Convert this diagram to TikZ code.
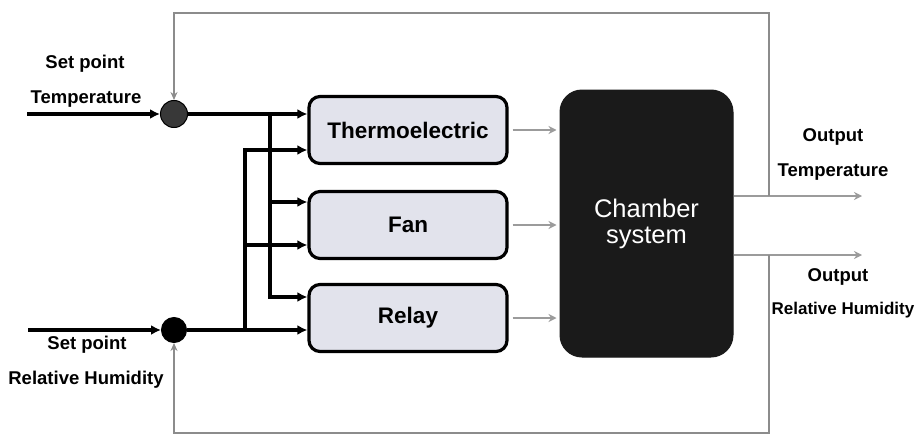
\documentclass[tikz,border=0pt]{standalone}
\usepackage{fontspec}
\setmainfont{Liberation Sans}
\usetikzlibrary{arrows.meta}
\definecolor{blkfill}{RGB}{226,227,236}
\definecolor{chfill}{RGB}{26,26,26}
\definecolor{fbgray}{RGB}{140,140,140}
\definecolor{agray}{RGB}{155,155,155}
\tikzset{
  blk/.style={draw=black, line width=3.2pt, rounded corners=11pt, fill=blkfill,
    minimum width=198pt, minimum height=67pt, inner sep=0pt,
    font=\bfseries\fontsize{22.5}{25}\selectfont},
  chbox/.style={draw=chfill, line width=1pt, rounded corners=22pt, fill=chfill,
    minimum width=173pt, minimum height=267pt, inner sep=0pt, text=white,
    align=center, font=\fontsize{25.5}{30}\selectfont},
  lbl/.style={font=\bfseries\fontsize{18.5}{21}\selectfont, inner sep=0pt},
  barrow/.style={line width=3.2pt, -{Latex[length=10pt,width=10pt]}},
  bline/.style={line width=3.2pt},
  garrow/.style={draw=agray, line width=1.8pt, -{Stealth[length=8pt,width=8pt]}},
  fb/.style={draw=fbgray, line width=1.4pt},
  fbarrow/.style={draw=fbgray, line width=1.4pt, -{Stealth[length=8pt,width=7pt]}},
  sumdot/.style={circle, inner sep=0pt, draw=black, line width=1pt},
}
\begin{document}
\begin{tikzpicture}[x=1pt,y=-1pt]
\useasboundingbox[fill=white] (0,0) rectangle (921,436);

% summing circles
\node[sumdot, fill=black!78, minimum size=27pt] (ct) at (174,114) {};
\node[sumdot, fill=black, minimum size=25pt] (chum) at (174,330) {};

% blocks
\node[blk] (th) at (408,130) {Thermoelectric};
\node[blk] (fan) at (408,225) {Fan};
\node[blk] (re) at (408,318) {Relay};
\node[chbox] (cs) at (646.5,223.5) {Chamber\\[-4pt]system};

% inputs
\coordinate (inT) at (27,114);
\coordinate (inH) at (28,330);
\draw[barrow] (inT) -- (ct);
\draw[barrow] (inH) -- (chum);

% labels left
\node[lbl] (l1) at (85,64) {Set point};
\node[lbl] (l2) at (86,99) {Temperature};
\node[lbl] (l3) at (87,345) {Set point};
\node[lbl] (l4) at (86,380) {Relative Humidity};

% temperature path and bus
\draw[barrow] (ct) -- (ct -| th.west);
\coordinate (bt0) at (270,114);
\coordinate (bt1) at (270,202);
\coordinate (bt2) at (270,297);
\draw[bline] (bt0) -- (bt2);
\draw[barrow] (bt1) -- (bt1 -| fan.west);
\draw[barrow] ([xshift=-1.6pt]bt2) -- (bt2 -| re.west);

% humidity path and bus
\draw[barrow] (chum) -- (chum -| re.west);
\coordinate (bh0) at (245,330);
\coordinate (bh1) at (245,245);
\coordinate (bh2) at (245,150);
\draw[bline] (bh0) -- (bh2);
\draw[barrow] (bh1) -- (bh1 -| fan.west);
\draw[barrow] ([xshift=-1.6pt]bh2) -- (bh2 -| th.west);

% grey arrows into chamber
\draw[garrow] ([xshift=4pt]th.east) -- ([xshift=-3pt]th.east -| cs.west);
\draw[garrow] ([xshift=4pt]fan.east) -- ([xshift=-3pt]fan.east -| cs.west);
\draw[garrow] ([xshift=4pt]re.east) -- ([xshift=-3pt]re.east -| cs.west);

% outputs
\coordinate (oT) at (862,196);
\coordinate (oH) at (862,255);
\draw[garrow] (cs.east |- oT) -- (oT);
\draw[garrow] (cs.east |- oH) -- (oH);
\node[lbl] (r1) at (833,137) {Output};
\node[lbl] (r2) at (833,172) {Temperature};
\node[lbl] (r3) at (838,277) {Output};
\node[lbl, font=\bfseries\fontsize{17}{19}\selectfont] (r4) at (843,310) {Relative Humidity};

% feedback loops
\coordinate (fT) at (769,196);
\coordinate (fTc) at (769,13);
\coordinate (fTl) at (174,13);
\draw[fbarrow] (fT) -- (fTc) -- (fTl) -- (ct.north);
\coordinate (fH) at (769,255);
\coordinate (fHc) at (769,433);
\coordinate (fHl) at (174,433);
\draw[fbarrow] (fH) -- (fHc) -- (fHl) -- (chum.south);
\end{tikzpicture}
\end{document}
